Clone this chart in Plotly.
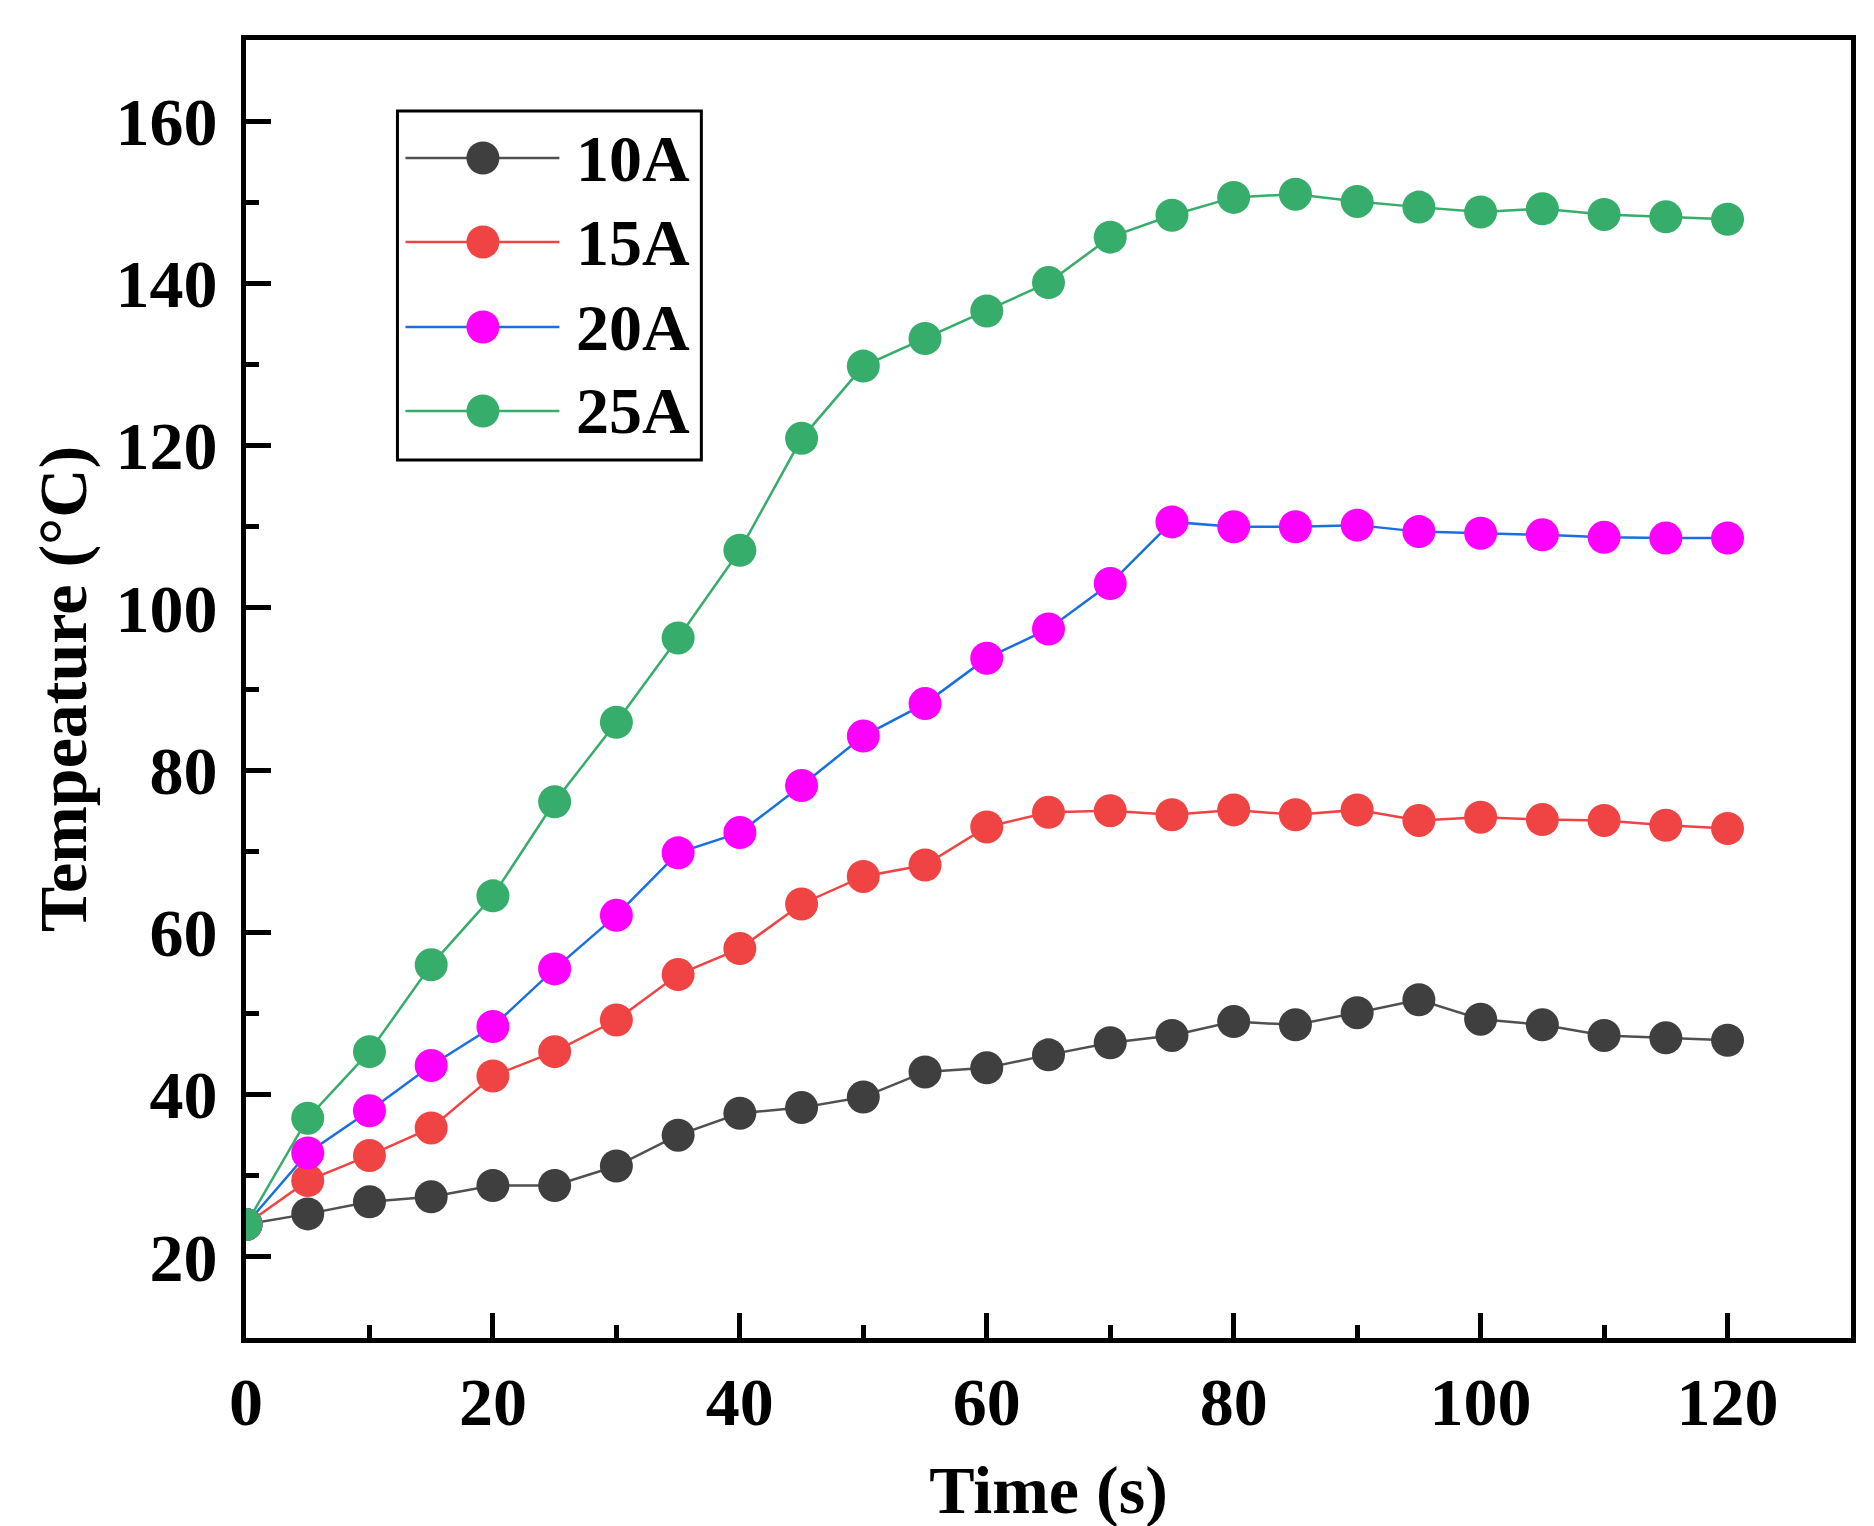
import plotly.graph_objects as go

# Data
time_s = [0, 5, 10, 15, 20, 25, 30, 35, 40, 45, 50, 55, 60,
          65, 70, 75, 80, 85, 90, 95, 100, 105, 110, 115, 120]

temp_10a = [24.0, 25.3, 26.8, 27.4, 28.8, 28.8, 31.2, 35.0, 37.7, 38.4, 39.7, 42.8, 43.3,
            44.9, 46.4, 47.3, 49.0, 48.6, 50.1, 51.7, 49.3, 48.6, 47.3, 47.0, 46.7]
temp_15a = [24.0, 29.4, 32.5, 35.9, 42.3, 45.3, 49.2, 54.8, 58.0, 63.5, 66.9, 68.3, 73.0,
            74.8, 75.0, 74.5, 75.1, 74.5, 75.1, 73.8, 74.2, 73.9, 73.8, 73.2, 72.8]
temp_20a = [24.0, 32.8, 38.0, 43.6, 48.4, 55.5, 62.1, 69.8, 72.3, 78.1, 84.2, 88.2, 93.8,
            97.4, 103.0, 110.6, 110.0, 110.0, 110.2, 109.4, 109.2, 109.0, 108.7, 108.6, 108.6]
temp_25a = [24.0, 37.1, 45.3, 56.0, 64.5, 76.1, 85.9, 96.3, 107.1, 120.9, 129.8, 133.2, 136.6,
            140.1, 145.7, 148.4, 150.6, 151.0, 150.1, 149.4, 148.8, 149.2, 148.5, 148.2, 147.9]

series_names = ["10A", "15A", "20A", "25A"]
series_values = [temp_10a, temp_15a, temp_20a, temp_25a]

# styles: (line colour, marker colour)
styles = [("#505050", "#3f3f3f"),
          ("#f04444", "#f04444"),
          ("#1a6fe0", "#ff00ff"),
          ("#36ad6a", "#36ad6a")]

FONT = "Times New Roman, Liberation Serif, serif"
W, H = 1874, 1526
L, R, T, B = 237.5, 31, 32, 196
PW, PH = W - L - R, H - T - B


def px_x(x):
    return (x - L) / PW


def px_y(y):
    return (H - B - y) / PH


fig = go.Figure()
for name, vals, (lc, mc) in zip(series_names, series_values, styles):
    fig.add_trace(go.Scatter(
        x=time_s, y=vals, name=name, mode="lines+markers",
        line=dict(color=lc, width=2.5),
        marker=dict(color=mc, size=33, line=dict(width=0)),
        showlegend=False,
    ))

# hand-made legend so the keys match the large markers of the original
shapes = [dict(type="rect", xref="paper", yref="paper",
               x0=px_x(389), x1=px_x(693), y0=px_y(452), y1=px_y(103),
               line=dict(color="black", width=3), fillcolor="white", layer="below")]
annotations = []
row_y = [150, 234, 319, 403]
for name, (lc, mc), ry in zip(series_names, styles, row_y):
    shapes.append(dict(type="line", xref="paper", yref="paper",
                       x0=px_x(397), x1=px_x(551), y0=px_y(ry), y1=px_y(ry),
                       line=dict(color=lc, width=2.5)))
    shapes.append(dict(type="circle", xref="paper", yref="paper",
                       x0=px_x(474.5 - 16.5), x1=px_x(474.5 + 16.5),
                       y0=px_y(ry + 16.5), y1=px_y(ry - 16.5),
                       fillcolor=mc, line=dict(width=0)))
    annotations.append(dict(xref="paper", yref="paper", x=px_x(566), y=px_y(ry),
                            text="<b>%s</b>" % name, showarrow=False,
                            xanchor="left", yanchor="middle",
                            font=dict(family=FONT, size=66, color="black")))

axis_common = dict(
    showline=True, linecolor="black", linewidth=5, mirror=True,
    ticks="inside", ticklen=25, tickwidth=5, tickcolor="black",
    showgrid=False, zeroline=False,
    tickfont=dict(family=FONT, size=68, color="black"),
    tickprefix="<b>", ticksuffix="</b>",
)

fig.update_xaxes(
    range=[0, 130], dtick=20, tick0=0,
    minor=dict(ticks="inside", ticklen=13, tickwidth=5, dtick=10, tick0=0, tickcolor="black"),
    ticklabelstandoff=0,
    title=dict(text="<b>Time (s)</b>", font=dict(family=FONT, size=68, color="black"), standoff=28),
    **axis_common,
)
fig.update_yaxes(
    range=[10, 170], dtick=20, tick0=0,
    minor=dict(ticks="inside", ticklen=13, tickwidth=5, dtick=10, tick0=0, tickcolor="black"),
    ticklabelstandoff=10,
    title=dict(text="<b>Tempeature (°C)</b>", font=dict(family=FONT, size=68, color="black"), standoff=8),
    **axis_common,
)

fig.update_layout(
    width=W, height=H,
    margin=dict(l=L, r=R, t=T, b=B),
    plot_bgcolor="white", paper_bgcolor="white",
    font=dict(family=FONT, color="black"),
    shapes=shapes, annotations=annotations,
)

fig.write_html("out.html")
